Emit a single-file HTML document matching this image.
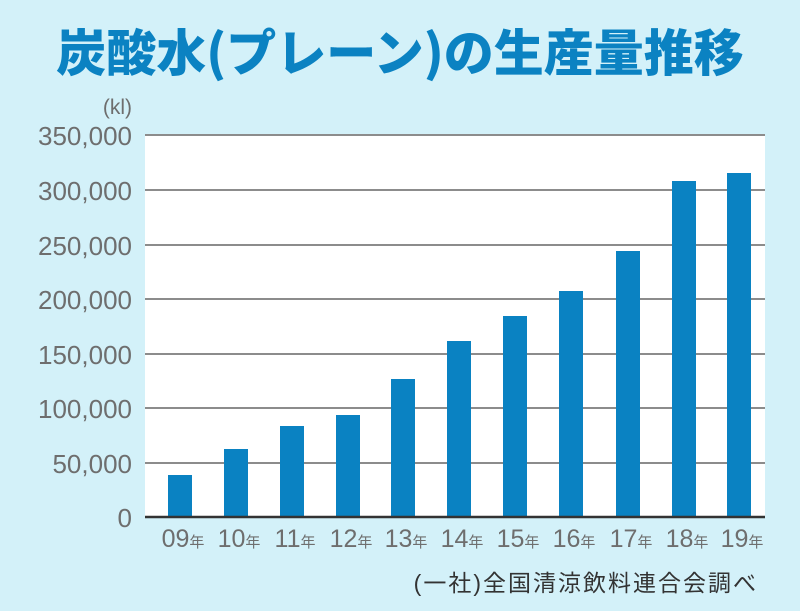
<!DOCTYPE html>
<html><head><meta charset="utf-8"><style>
html,body{margin:0;padding:0}
body{width:800px;height:611px;background:#d3f1f9;position:relative;overflow:hidden;font-family:"Liberation Sans","Noto Sans CJK JP",sans-serif}
.t{position:absolute;left:0;width:800px;top:14px;text-align:center;font-size:50px;font-weight:900;color:#0b82c2;letter-spacing:0px;white-space:nowrap;font-family:"Noto Sans CJK JP",sans-serif}
</style></head><body>
<div class="t">炭酸水(プレーン)の生産量推移</div>
<svg width="800" height="611" style="position:absolute;left:0;top:0">
<rect x="145" y="135" width="620" height="382" fill="#fff"/>
<g stroke="#8c8c8c" stroke-width="2">
<line x1="145" x2="765" y1="135" y2="135"/><line x1="145" x2="765" y1="190" y2="190"/>
<line x1="145" x2="765" y1="245" y2="245"/><line x1="145" x2="765" y1="299" y2="299"/>
<line x1="145" x2="765" y1="354" y2="354"/><line x1="145" x2="765" y1="408" y2="408"/>
<line x1="145" x2="765" y1="463" y2="463"/>
</g>
<g fill="#0a82c2">
<rect x="168" y="475" width="24" height="42"/>
<rect x="224" y="449" width="24" height="68"/>
<rect x="280" y="426" width="24" height="91"/>
<rect x="336" y="415" width="24" height="102"/>
<rect x="391" y="379" width="24" height="138"/>
<rect x="447" y="341" width="24" height="176"/>
<rect x="503" y="316" width="24" height="201"/>
<rect x="559" y="291" width="24" height="226"/>
<rect x="616" y="251" width="24" height="266"/>
<rect x="672" y="181" width="24" height="336"/>
<rect x="727" y="173" width="24" height="344"/>
</g>
<line x1="145" x2="765" y1="517" y2="517" stroke="#333" stroke-width="2.5"/>
<g font-family="Liberation Sans, sans-serif" font-size="26" fill="#6e6e6e" text-anchor="end">
<text x="132" y="114" font-size="21">(kl)</text>
<text x="132" y="145">350,000</text><text x="132" y="200">300,000</text>
<text x="132" y="255">250,000</text><text x="132" y="309">200,000</text>
<text x="132" y="364">150,000</text><text x="132" y="418">100,000</text>
<text x="132" y="473">50,000</text><text x="132" y="527">0</text>
</g>
<g font-family="Liberation Sans, Noto Sans CJK JP, sans-serif" font-size="25" fill="#6e6e6e" text-anchor="middle">
<text x="183" y="547">09<tspan font-size="15">年</tspan></text>
<text x="239" y="547">10<tspan font-size="15">年</tspan></text>
<text x="295" y="547">11<tspan font-size="15">年</tspan></text>
<text x="351" y="547">12<tspan font-size="15">年</tspan></text>
<text x="406" y="547">13<tspan font-size="15">年</tspan></text>
<text x="462" y="547">14<tspan font-size="15">年</tspan></text>
<text x="518" y="547">15<tspan font-size="15">年</tspan></text>
<text x="574" y="547">16<tspan font-size="15">年</tspan></text>
<text x="631" y="547">17<tspan font-size="15">年</tspan></text>
<text x="687" y="547">18<tspan font-size="15">年</tspan></text>
<text x="742" y="547">19<tspan font-size="15">年</tspan></text>
</g>
<text x="758" y="591" text-anchor="end" font-family="Liberation Sans, Noto Sans CJK JP, sans-serif" font-size="23" letter-spacing="2" fill="#333">(一社)全国清涼飲料連合会調べ</text>
</svg>
</body></html>
